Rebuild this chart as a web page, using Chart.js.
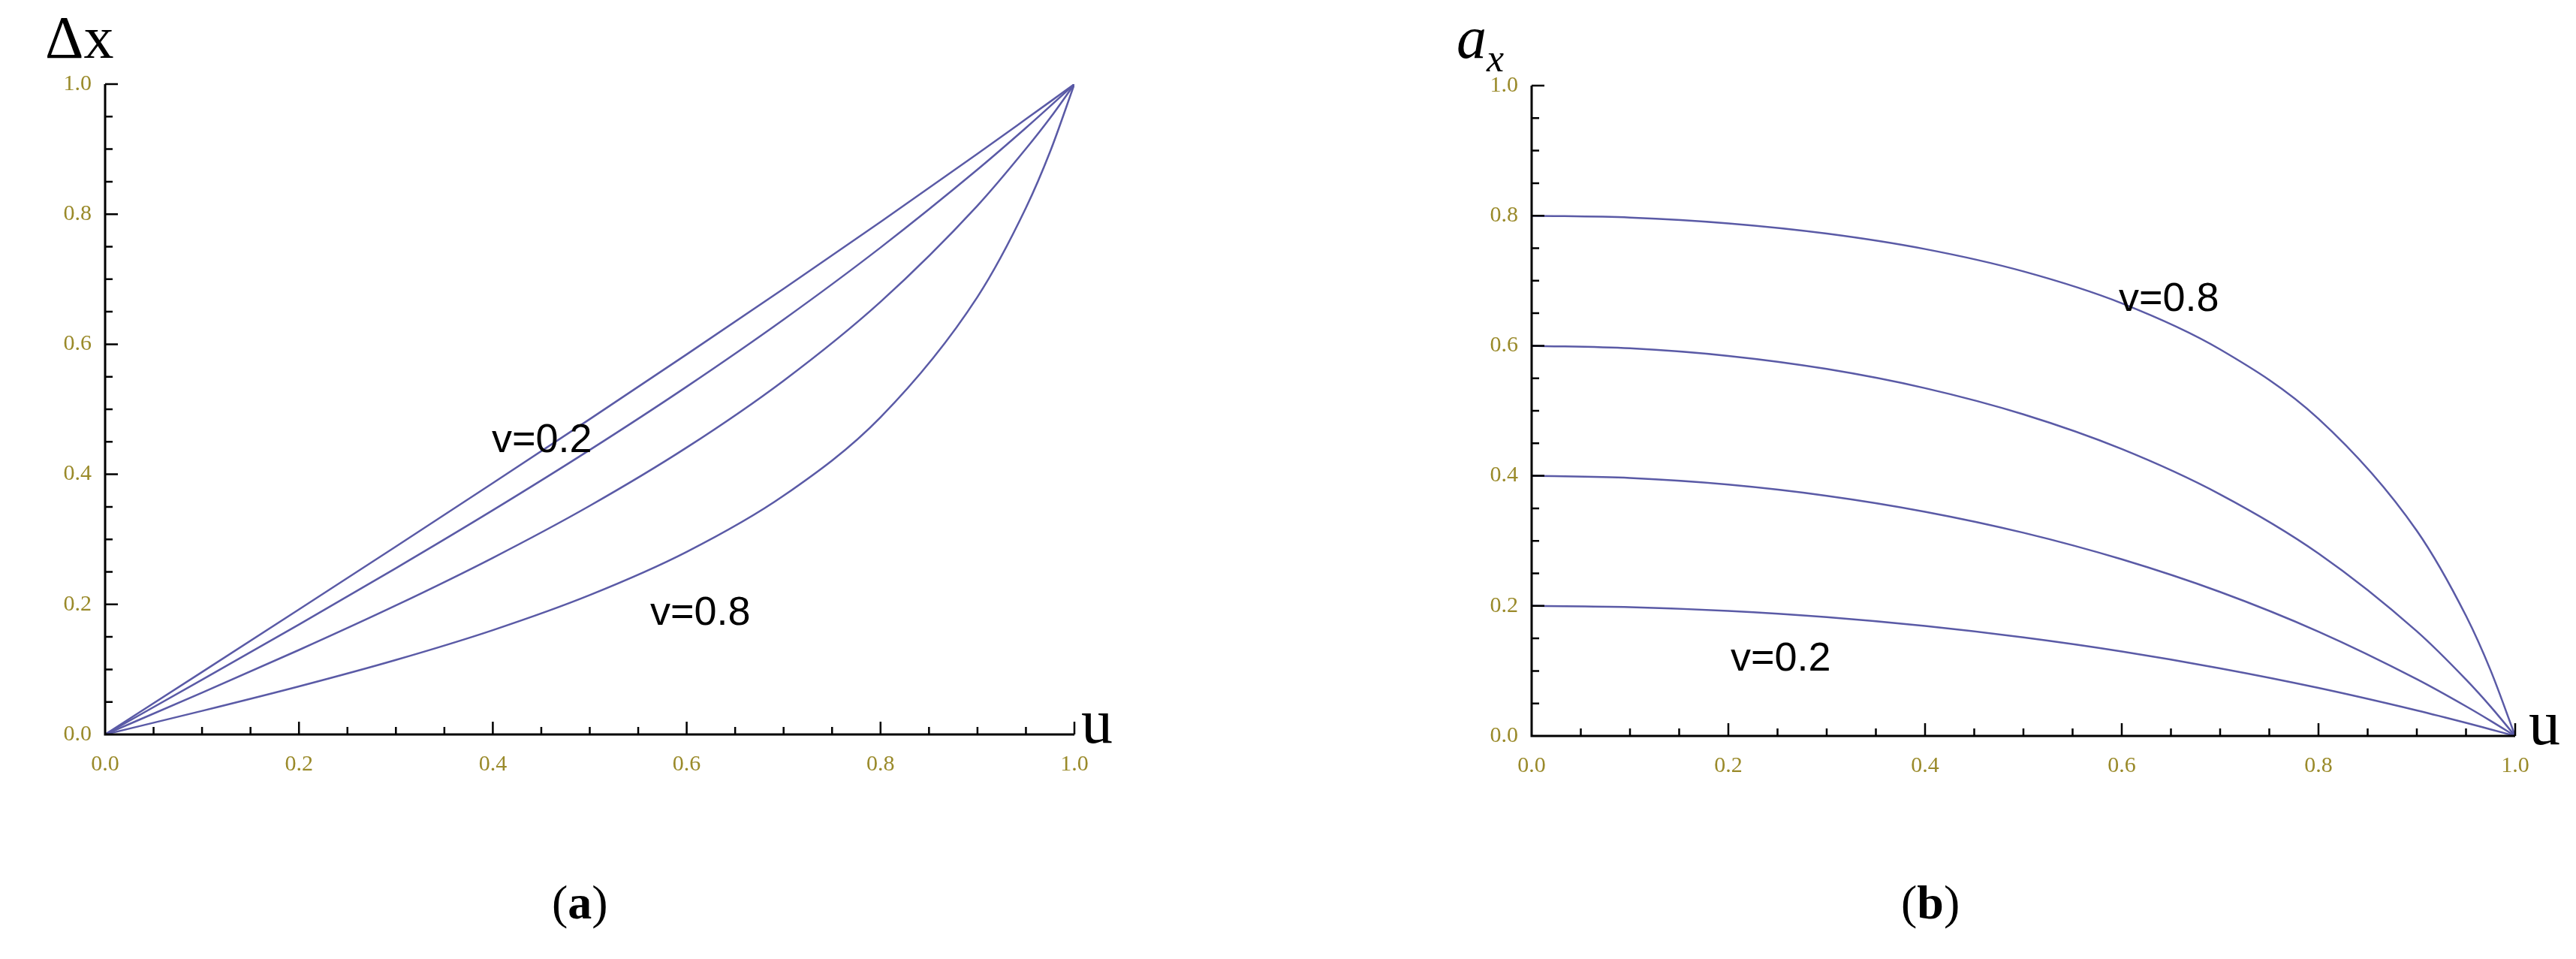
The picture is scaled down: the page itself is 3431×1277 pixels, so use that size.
<!DOCTYPE html>
<html>
<head>
<meta charset="UTF-8">
<style>
  body { margin: 0; width: 3431px; height: 1277px; background: #fff; position: relative; overflow: hidden; }
  canvas { position: absolute; top: 0; }
  .lbl { position: absolute; font-family: "Liberation Sans", "Open Sans", sans-serif; font-size: 54px; color: #000; white-space: nowrap; }
  .ttl { position: absolute; font-family: "Liberation Serif", "DejaVu Serif", serif; color: #000; white-space: nowrap; }
</style>
</head>
<body>
<canvas id="chartA"></canvas>
<canvas id="chartB"></canvas>

<div class="ttl" style="left:60px;top:5px;font-size:80px;">Δx</div>
<div class="ttl" style="left:1440px;top:912px;font-size:84px;">u</div>
<div class="ttl" style="left:1940px;top:5px;font-size:80px;font-style:italic;">a<span style="font-size:52px;vertical-align:-18px;">x</span></div>
<div class="ttl" style="left:3368px;top:914px;font-size:84px;">u</div>
<div class="ttl" style="left:735px;top:1165px;font-size:64px;">(<b>a</b>)</div>
<div class="ttl" style="left:2532px;top:1165px;font-size:64px;">(<b>b</b>)</div>

<div class="lbl" style="left:655px;top:552px;">v=0.2</div>
<div class="lbl" style="left:866px;top:782px;">v=0.8</div>
<div class="lbl" style="left:2822px;top:364px;">v=0.8</div>
<div class="lbl" style="left:2305px;top:843px;">v=0.2</div>

<script src="https://cdn.jsdelivr.net/npm/chart.js"></script>
<script>
// u values shared by all curves
const uVals = [0, 0.1, 0.2, 0.3, 0.4, 0.5, 0.6, 0.7, 0.8, 0.9, 0.95, 0.975, 1];

// (a) displacement curves, v = 0.2, 0.4, 0.6, 0.8
const dx02 = [0, 0.0960, 0.1923, 0.2890, 0.3865, 0.4848, 0.5844, 0.6854, 0.7882, 0.8929, 0.9462, 0.9730, 1];
const dx04 = [0, 0.0841, 0.1691, 0.2557, 0.3448, 0.4375, 0.5348, 0.6380, 0.7487, 0.8686, 0.9327, 0.9660, 1];
const dx06 = [0, 0.0642, 0.1299, 0.1984, 0.2716, 0.3516, 0.4412, 0.5440, 0.6653, 0.8131, 0.9006, 0.9480, 1];
const dx08 = [0, 0.0362, 0.0739, 0.1146, 0.1604, 0.2143, 0.2807, 0.3671, 0.4878, 0.6728, 0.8097, 0.8963, 1];

// (b) a_x curves
const ax02 = [0.2, 0.1981, 0.1923, 0.1827, 0.1691, 0.1515, 0.1299, 0.1040, 0.0739, 0.0393, 0.0202, 0.0101, 0];
const ax04 = [0.4, 0.3966, 0.3865, 0.3693, 0.3448, 0.3125, 0.2716, 0.2214, 0.1604, 0.0873, 0.0456, 0.0233, 0];
const ax06 = [0.6, 0.5961, 0.5844, 0.5643, 0.5348, 0.4945, 0.4412, 0.3715, 0.2807, 0.1609, 0.0867, 0.0452, 0];
const ax08 = [0.8, 0.7971, 0.7882, 0.7725, 0.7487, 0.7143, 0.6653, 0.5944, 0.4878, 0.3156, 0.1847, 0.1009, 0];

const tickVals = [0, 0.2, 0.4, 0.6, 0.8, 1.0];

const lineColor = '#5a5aa6';

// inward ticks every 0.05, major every 0.2
const inTicks = {
  id: 'inTicks',
  afterDraw(chart) {
    const ctx = chart.ctx, xs = chart.scales.x, ys = chart.scales.y;
    const x0 = xs.getPixelForValue(0), y0 = ys.getPixelForValue(0);
    ctx.save();
    ctx.strokeStyle = '#000';
    ctx.lineWidth = 3;
    ctx.beginPath();
    ctx.moveTo(x0, ys.getPixelForValue(1)); ctx.lineTo(x0, y0);
    ctx.lineTo(xs.getPixelForValue(1), y0);
    ctx.stroke();
    ctx.lineWidth = 2.5;
    for (let i = 1; i <= 20; i++) {
      const v = i * 0.05;
      const len = i % 4 === 0 ? 17 : 10;
      const px = xs.getPixelForValue(v), py = ys.getPixelForValue(v);
      ctx.beginPath();
      ctx.moveTo(px, y0); ctx.lineTo(px, y0 - len);
      ctx.moveTo(x0, py); ctx.lineTo(x0 + len, py);
      ctx.stroke();
    }
    ctx.restore();
  }
};

function makeChart(id, left, width, rightPad, top, bottom, series) {
  const cv = document.getElementById(id);
  cv.style.left = left + 'px';
  cv.width = width; cv.height = 1277;
  cv.style.width = width + 'px'; cv.style.height = '1277px';
  const tickFont = { family: 'Liberation Serif', size: 30 };
  new Chart(cv, {
    type: 'line',
    data: {
      datasets: series.map(s => ({
        data: uVals.map((u, i) => ({ x: u, y: s[i] })),
        borderColor: lineColor,
        borderWidth: 2.5,
        pointRadius: 0,
        cubicInterpolationMode: 'monotone',
        fill: false
      }))
    },
    options: {
      responsive: false,
      animation: false,
      events: [],
      layout: { padding: { top: top, right: rightPad, left: 0, bottom: 0 } },
      plugins: { legend: { display: false }, tooltip: { enabled: false } },
      scales: {
        x: {
          type: 'linear', min: 0, max: 1,
          border: { display: false },
          grid: { display: false },
          afterBuildTicks: s => { s.ticks = tickVals.map(v => ({ value: v })); },
          afterFit: s => { s.height = 1277 - bottom; },
          ticks: { color: '#9a8a2a', font: tickFont, padding: 14, maxRotation: 0,
                   callback: v => v.toFixed(1) }
        },
        y: {
          type: 'linear', min: 0, max: 1,
          border: { display: false },
          grid: { display: false },
          afterBuildTicks: s => { s.ticks = tickVals.map(v => ({ value: v })); },
          afterFit: s => { s.width = 140; },
          ticks: { color: '#9a8a2a', font: tickFont, padding: 10,
                   callback: v => v.toFixed(1) }
        }
      }
    },
    plugins: [inTicks]
  });
}

makeChart('chartA', 0, 1592, 161, 112, 978, [dx02, dx04, dx06, dx08]);
makeChart('chartB', 1900, 1590, 140, 114, 980, [ax02, ax04, ax06, ax08]);
</script>
</body>
</html>
